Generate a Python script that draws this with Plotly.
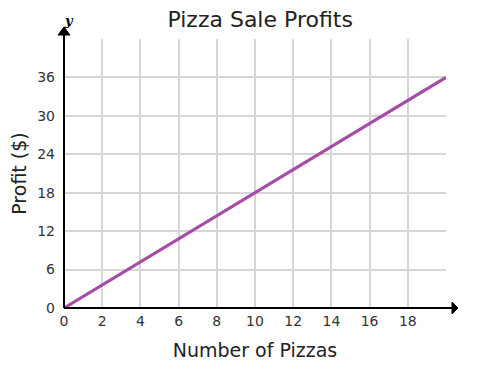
import plotly.graph_objects as go

pizzas = [0, 20]
profit = [0, 36]
x_ticks = list(range(0, 21, 2))
x_labels = [str(v) for v in range(0, 19, 2)] + [""]
y_ticks = list(range(0, 43, 6))
y_labels = [str(v) for v in range(0, 37, 6)] + [""]

fig = go.Figure()
fig.add_trace(go.Scatter(x=pizzas, y=profit, mode="lines",
                         line=dict(color="#a64ca6", width=3.2), hoverinfo="skip"))

font = "DejaVu Sans, Verdana, sans-serif"
# page body has an 8px default margin; compensate in figure size/margins
fig.update_layout(
    width=484, height=362,
    margin=dict(l=56, r=46, t=31, b=62),
    paper_bgcolor="white", plot_bgcolor="white",
    showlegend=False,
    title=dict(text="Pizza Sale Profits", x=0.521, xanchor="center", y=0.968, yanchor="middle",
               font=dict(family=font, size=22, color="#222")),
    xaxis=dict(range=[0, 20], tickvals=x_ticks, ticktext=x_labels, automargin=False,
               showgrid=True, gridcolor="#d6d6d6", gridwidth=1.5, zeroline=False,
               showline=False, ticks="", ticklabelstandoff=3,
               tickfont=dict(family=font, size=14, color="#333"),
               title=dict(text="Number of Pizzas", font=dict(family=font, size=19, color="#222"), standoff=15)),
    yaxis=dict(range=[0, 42], tickvals=y_ticks, ticktext=y_labels, automargin=False,
               showgrid=True, gridcolor="#d6d6d6", gridwidth=1.5, zeroline=False,
               showline=False, ticks="", ticklabelstandoff=8,
               tickfont=dict(family=font, size=14, color="#333"),
               title=dict(text="Profit ($)", font=dict(family=font, size=19, color="#222"), standoff=6)),
)

W = 382.0
H = 269.0
def px(dx):
    return dx / W
def py(dy):
    return dy / H

shapes = [
    dict(type="line", xref="paper", yref="paper", x0=0, x1=0, y0=0, y1=1 + py(4),
         line=dict(color="black", width=2)),
    dict(type="line", xref="paper", yref="paper", x0=0, x1=1 + px(6), y0=0, y1=0,
         line=dict(color="black", width=2)),
    dict(type="path", xref="paper", yref="paper",
         path=f"M {-px(6)},{1+py(4)} L {px(6)},{1+py(4)} L 0,{1+py(12)} Z",
         fillcolor="black", line=dict(color="black", width=1)),
    dict(type="path", xref="paper", yref="paper",
         path=f"M {1+px(6)},{py(6)} L {1+px(6)},{-py(6)} L {1+px(12)},0 Z",
         fillcolor="black", line=dict(color="black", width=1)),
]
fig.update_layout(shapes=shapes)
fig.add_annotation(xref="paper", yref="paper", x=px(-2), y=1 + py(28), text="<i><b>y</b></i>",
                   showarrow=False, font=dict(family="DejaVu Serif, serif", size=13, color="black"))

fig.write_html("out.html")
